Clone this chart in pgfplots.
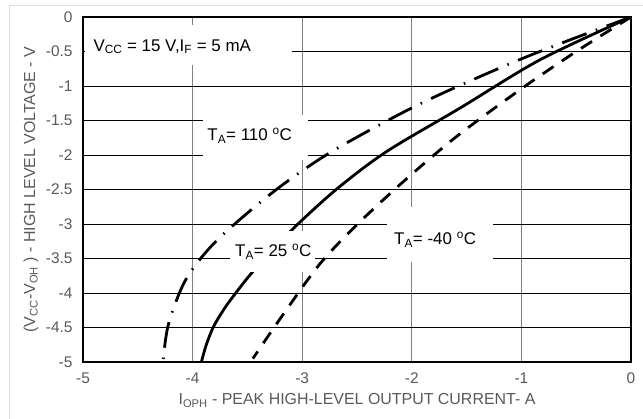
\documentclass[border=0pt]{standalone}
\usepackage{pgfplots}
\pgfplotsset{compat=1.18}
\usepackage{fontspec}
\setmainfont{Liberation Sans}
\definecolor{txtgray}{HTML}{595959}
\definecolor{framegray}{HTML}{DDDDDD}
\definecolor{vgrid}{HTML}{808080}
\begin{document}
\begin{tikzpicture}
\useasboundingbox (-83bp,-57bp) rectangle (560bp,362bp);
\draw[framegray, line width=1bp] (-73bp,-57bp) -- (-73bp,356bp) -- (560bp,356bp);
\begin{axis}[
  at={(0,0)}, anchor=south west,
  width=548bp, height=345bp, scale only axis,
  xmin=-5, xmax=0, ymin=-5, ymax=0,
  xtick={-5,-4,-3,-2,-1,0}, xticklabels={-5,-4,-3,-2,-1,0},
  ytick={-5,-4.5,-4,-3.5,-3,-2.5,-2,-1.5,-1,-0.5,0},
  yticklabels={-5,-4.5,-4,-3.5,-3,-2.5,-2,-1.5,-1,-0.5,0},
  major tick length=0pt,
  grid=major,
  x grid style={draw=vgrid, line width=1.1bp},
  y grid style={draw=black, line width=0.8bp},
  axis line style={line width=1.4bp},
  tick label style={font=\fontsize{15.5}{18}\selectfont, text=txtgray},
  xticklabel style={yshift=-7bp},
  yticklabel style={xshift=-7bp},
  label style={font=\fontsize{16}{19}\selectfont, text=txtgray},
  xlabel={I\textsubscript{OPH} - PEAK HIGH-LEVEL OUTPUT CURRENT- A},
  ylabel={(V\textsubscript{CC}-V\textsubscript{OH} ) - HIGH LEVEL VOLTAGE - V},
  xlabel style={at={(axis description cs:0.5,-0.1246)}, anchor=base},
  ylabel style={at={(axis description cs:-0.0949,0.5)}, anchor=center},
]
% T_A = 110 C (dash-dot)
\addplot[black, line width=2.8bp, smooth,
  dash pattern=on 26bp off 10bp on 1.5bp off 10bp] coordinates {
  (0,0) (-0.62,-0.37) (-1.14,-0.70) (-1.94,-1.27) (-2.73,-1.95)
  (-3.26,-2.53) (-3.78,-3.24) (-4.06,-3.80) (-4.22,-4.45) (-4.27,-5.0)
};
% T_A = 25 C (solid)
\addplot[black, line width=2.8bp, smooth] coordinates {
  (0,0) (-0.83,-0.62) (-1.56,-1.32) (-2.23,-1.95) (-2.69,-2.50)
  (-3.11,-3.11) (-3.45,-3.69) (-3.63,-4.05) (-3.72,-4.25) (-3.81,-4.49)
  (-3.875,-4.75) (-3.92,-5)
};
% T_A = -40 C (dashed)
\addplot[black, line width=2.8bp, smooth,
  dash pattern=on 13bp off 10bp] coordinates {
  (0,0) (-0.5,-0.5) (-1.0,-1.04) (-1.59,-1.73) (-2.08,-2.39)
  (-2.52,-3.04) (-2.85,-3.6) (-3.2,-4.37) (-3.45,-4.95)
};
% label boxes
\fill[white] (axis cs:-4.98,-0.116) rectangle (axis cs:-3.093,-0.696);
\fill[white] (axis cs:-3.905,-1.420) rectangle (axis cs:-2.947,-2.072);
\fill[white] (axis cs:-3.659,-3.101) rectangle (axis cs:-2.883,-3.696);
\fill[white] (axis cs:-2.226,-2.754) rectangle (axis cs:-1.259,-3.551);
\node[anchor=base west, inner sep=0pt, font=\fontsize{17}{20}\selectfont] at (axis cs:-4.906,-0.493)
  {V\textsubscript{CC} = 15 V,I\textsubscript{F} = 5 mA};
\node[anchor=base west, inner sep=0pt, font=\fontsize{17}{20}\selectfont] at (axis cs:-3.866,-1.797)
  {T\textsubscript{A}= 110 \textsuperscript{o}C};
\node[anchor=base west, inner sep=0pt, font=\fontsize{17}{20}\selectfont] at (axis cs:-3.613,-3.478)
  {T\textsubscript{A}= 25 \textsuperscript{o}C};
\node[anchor=base west, inner sep=0pt, font=\fontsize{17}{20}\selectfont] at (axis cs:-2.162,-3.304)
  {T\textsubscript{A}= -40 \textsuperscript{o}C};
\end{axis}
\end{tikzpicture}
\end{document}
